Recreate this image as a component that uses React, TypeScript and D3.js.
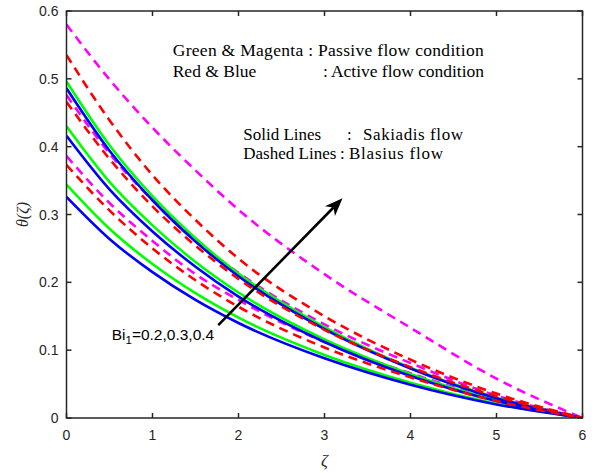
import React from "react";
import * as d3 from "d3";

const zeta = [0, 0.5, 1, 1.5, 2, 3, 4, 5, 6];
const blue1 = [0.486, 0.394, 0.321, 0.26, 0.209, 0.131, 0.073, 0.029, 0];
const blue2 = [0.416, 0.337, 0.275, 0.223, 0.179, 0.112, 0.062, 0.025, 0];
const blue3 = [0.326, 0.264, 0.215, 0.174, 0.14, 0.088, 0.049, 0.02, 0];
const green1 = [0.496, 0.402, 0.327, 0.265, 0.213, 0.134, 0.074, 0.03, 0];
const green2 = [0.43, 0.348, 0.284, 0.23, 0.185, 0.116, 0.065, 0.026, 0];
const green3 = [0.344, 0.279, 0.227, 0.184, 0.148, 0.093, 0.052, 0.021, 0];
const red1 = [0.535, 0.439, 0.358, 0.292, 0.235, 0.15, 0.086, 0.036, 0];
const red2 = [0.466, 0.382, 0.312, 0.254, 0.205, 0.13, 0.075, 0.032, 0];
const red3 = [0.373, 0.306, 0.25, 0.203, 0.164, 0.104, 0.06, 0.025, 0];
const magenta1 = [0.58, 0.499, 0.428, 0.365, 0.307, 0.212, 0.133, 0.058, 0];
const magenta2 = [0.476, 0.39, 0.321, 0.262, 0.214, 0.138, 0.081, 0.033, 0];
const magenta3 = [0.386, 0.317, 0.261, 0.212, 0.174, 0.112, 0.066, 0.027, 0];

const xTicks = [0, 1, 2, 3, 4, 5, 6];
const yTicks = [0, 0.1, 0.2, 0.3, 0.4, 0.5, 0.6];

const series = [
  { values: magenta1, color: "#ff00ff", dashed: true },
  { values: magenta2, color: "#ff00ff", dashed: true },
  { values: magenta3, color: "#ff00ff", dashed: true },
  { values: green1, color: "#00ff00", dashed: false },
  { values: green2, color: "#00ff00", dashed: false },
  { values: green3, color: "#00ff00", dashed: false },
  { values: blue1, color: "#0000ff", dashed: false },
  { values: blue2, color: "#0000ff", dashed: false },
  { values: blue3, color: "#0000ff", dashed: false },
  { values: red1, color: "#ff0000", dashed: true },
  { values: red2, color: "#ff0000", dashed: true },
  { values: red3, color: "#ff0000", dashed: true },
];

const arrowFrom = [1.765, 0.137];
const arrowTo = [3.21, 0.324];

export default function App() {
  const W = 596, H = 473;
  const x = d3.scaleLinear().domain([0, 6]).range([66.5, 582.5]);
  const y = d3.scaleLinear().domain([0, 0.6]).range([418, 11]);
  const line = d3
    .line<number>()
    .x((_, i) => x(zeta[i]))
    .y((d) => y(d))
    .curve(d3.curveMonotoneX);
  const axisColor = "#262626";
  const tl = 5;
  const x0 = x(0), x1 = x(6), y0 = y(0), y1 = y(0.6);

  const ax1 = x(arrowFrom[0]), ay1 = y(arrowFrom[1]);
  const ax2 = x(arrowTo[0]), ay2 = y(arrowTo[1]);
  const ang = Math.atan2(ay2 - ay1, ax2 - ax1);
  const hl = 18, hw = 7;
  const bx = ax2 - hl * Math.cos(ang), by = ay2 - hl * Math.sin(ang);
  const nx = -Math.sin(ang), ny = Math.cos(ang);
  const mx = ax2 - hl * 0.72 * Math.cos(ang), my = ay2 - hl * 0.72 * Math.sin(ang);
  const head = `M${ax2},${ay2} L${bx + nx * hw},${by + ny * hw} L${mx},${my} L${bx - nx * hw},${by - ny * hw} Z`;

  const serif = "'Liberation Serif', 'Times New Roman', serif";
  const sans = "'Liberation Sans', Arial, sans-serif";

  return (
    <svg width={W} height={H} style={{ position: "absolute", left: 0, top: 0, background: "#fff" }}>
      <rect width={W} height={H} fill="#fff" />
      <defs>
        <clipPath id="plot">
          <rect x={x0} y={y1} width={x1 - x0} height={y0 - y1} />
        </clipPath>
      </defs>
      <g clipPath="url(#plot)">
        {series.map((s, i) => (
          <path
            key={i}
            d={line(s.values) || ""}
            fill="none"
            stroke={s.color}
            strokeWidth={2.6}
            strokeDasharray={s.dashed ? "9,6" : undefined}
          />
        ))}
      </g>
      <rect x={x0} y={y1} width={x1 - x0} height={y0 - y1} fill="none" stroke={axisColor} strokeWidth={1.5} />
      {xTicks.map((t) => (
        <g key={"x" + t}>
          <line x1={x(t)} x2={x(t)} y1={y0} y2={y0 - tl} stroke={axisColor} strokeWidth={1.5} />
          <line x1={x(t)} x2={x(t)} y1={y1} y2={y1 + tl} stroke={axisColor} strokeWidth={1.5} />
          <text x={x(t)} y={y0 + 22} textAnchor="middle" fontFamily={sans} fontSize={14} fill={axisColor}>
            {t}
          </text>
        </g>
      ))}
      {yTicks.map((t) => (
        <g key={"y" + t}>
          <line x1={x0} x2={x0 + tl} y1={y(t)} y2={y(t)} stroke={axisColor} strokeWidth={1.5} />
          <line x1={x1} x2={x1 - tl} y1={y(t)} y2={y(t)} stroke={axisColor} strokeWidth={1.5} />
          <text x={x0 - 8} y={y(t) + 5} textAnchor="end" fontFamily={sans} fontSize={14} fill={axisColor}>
            {t === 0 ? "0" : t.toFixed(1)}
          </text>
        </g>
      ))}
      <text
        transform={`translate(28,${(y0 + y1) / 2}) rotate(-90)`}
        textAnchor="middle"
        fontFamily={serif}
        fontStyle="italic"
        fontSize={16}
        fill={axisColor}
      >
        θ(ζ)
      </text>
      <text x={(x0 + x1) / 2} y={466} textAnchor="middle" fontFamily={serif} fontStyle="italic" fontSize={17} fill={axisColor}>
        ζ
      </text>

      <g fontFamily={serif} fontSize={17.5} fill="#000">
        <text x={172.7} y={56} textLength={311} lengthAdjust="spacing">Green &amp; Magenta : Passive flow condition</text>
        <text x={172.7} y={77}>Red &amp; Blue</text>
        <text x={323} y={77}>:</text>
        <text x={331} y={77} textLength={153} lengthAdjust="spacing">Active flow condition</text>
      </g>
      <g fontFamily={serif} fontSize={17} fill="#000">
        <text x={243.3} y={140}>Solid Lines</text>
        <text x={347} y={140}>:</text>
        <text x={363} y={140} textLength={100} lengthAdjust="spacing">Sakiadis flow</text>
        <text x={243.3} y={158.5}>Dashed Lines</text>
        <text x={340} y={158.5}>:</text>
        <text x={349} y={158.5} textLength={94} lengthAdjust="spacing">Blasius flow</text>
      </g>
      <text x={111.7} y={340} fontFamily={sans} fontSize={15.5} fill="#000">
        Bi
        <tspan fontSize={11.5} dy={4}>1</tspan>
        <tspan dy={-4}>=0.2,0.3,0.4</tspan>
      </text>
      <line x1={ax1} y1={ay1} x2={mx} y2={my} stroke="#000" strokeWidth={2.6} />
      <path d={head} fill="#000" />
    </svg>
  );
}
